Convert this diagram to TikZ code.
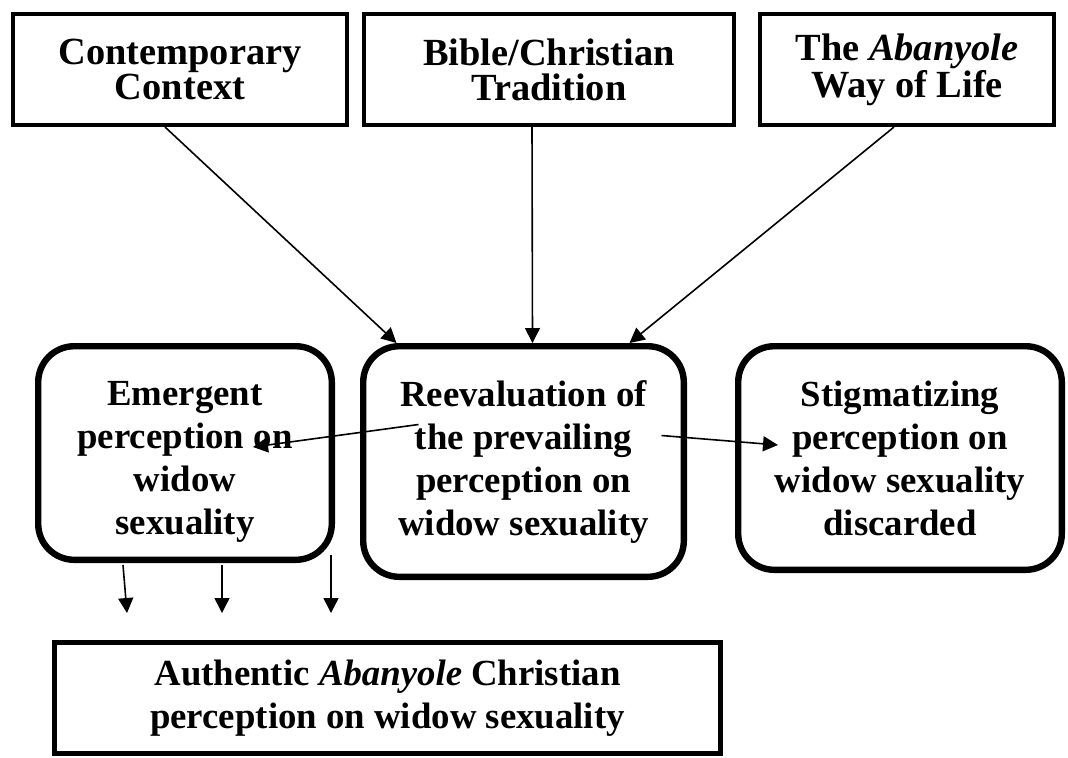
\documentclass[tikz,border=0pt]{standalone}
\usepackage{fontspec}
\setmainfont{Liberation Serif}
\usetikzlibrary{arrows.meta,calc}

\begin{document}
\begin{tikzpicture}[x=0.5pt,y=-0.5pt,
  txt/.style={align=center,inner sep=0pt,font=\bfseries\fontsize{18.4}{21.5}\selectfont},
  srcbox/.style={txt,draw,line width=1.8pt,minimum height=55.7pt,font=\bfseries\fontsize{19.2}{17.5}\selectfont},
  stagebox/.style={txt,draw,line width=3.2pt,rounded corners=18pt},
  endbox/.style={txt,draw,line width=2.5pt,minimum width=333pt,minimum height=55.5pt},
  arr/.style={line width=0.8pt,-{Triangle[length=7.5pt,width=7.5pt]}}]

\useasboundingbox (0,0) rectangle (1068,757);

\node[srcbox,minimum width=167pt] (ctx) at (180,69.5) {Contemporary\\Context};
\node[srcbox,minimum width=185pt] (bib) at (549,69.5) {Bible/Christian\\Tradition};
\node[srcbox,minimum width=147pt] (aba) at (907,69.5) {The \textit{Abanyole}\\Way of Life};

\node[stagebox,minimum width=146.8pt,minimum height=106.8pt] (eme) at (185,453) {};
\node[txt] (emetext) at (185,462) {Emergent\\perception on\\widow\\sexuality};
\node[stagebox,minimum width=160.3pt,minimum height=115.3pt] (ree) at (523.5,461.5)
  {Reevaluation of\\the prevailing\\perception on\\widow sexuality};
\node[stagebox,minimum width=161.8pt,minimum height=111.8pt] (sti) at (900,458)
  {Stigmatizing\\perception on\\widow sexuality\\discarded};

\node[endbox] (aut) at (387.5,698)
  {Authentic \textit{Abanyole} Christian\\perception on widow sexuality};

\draw[arr] ($(ctx.south)+(-15,0)$) -- ($(ree.north)+(-127,0)$);
\draw[arr] ($(bib.south)+(-17,0)$) -- ($(ree.north)+(9,0)$);
\draw[arr] ($(aba.south)+(-13,0)$) -- ($(ree.north)+(106,0)$);

\draw[arr] ($(ree.center)+(-105,-37)$) -- ($(eme.center)+(68,-6)$);
\draw[arr] ($(ree.center)+(138,-26)$) -- ($(sti.center)+(-122,-13)$);

\foreach \a/\dx/\dy/\c in {1/-62/2/127, 2/37/2/222, 3/146/-8/331} {
  \coordinate (down\a) at (\c,613);
  \draw[arr] ($(eme.south)+(\dx,\dy)$) -- (down\a);
}
\end{tikzpicture}
\end{document}
